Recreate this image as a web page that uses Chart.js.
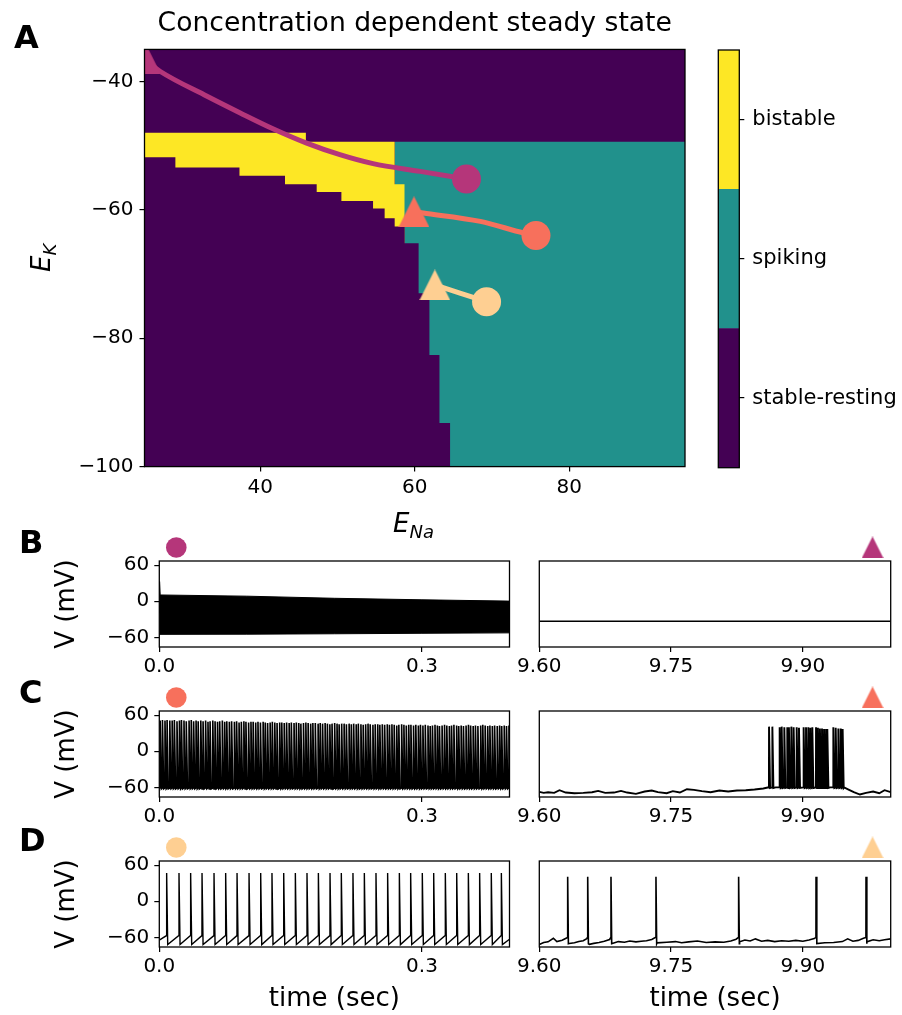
<!DOCTYPE html>
<html lang="en">
<head>
<meta charset="UTF-8">
<meta name="viewport" content="width=device-width, initial-scale=1.0">
<title>Concentration dependent steady state</title>
<script src="https://cdn.jsdelivr.net/npm/chart.js"></script>
<style>
  body { margin: 0; background: #fff; font-family: 'DejaVu Sans', sans-serif; }
  #fig { position: relative; width: 902px; height: 1015px; overflow: hidden; }
  #fig canvas { position: absolute; }
  .tag { position: absolute; font-weight: bold; font-size: 32px; line-height: 1; }
  .sym { position: absolute; font-style: italic; font-size: 26px; line-height: 1; white-space: nowrap; }
  .sym sub { font-size: 18px; vertical-align: -6px; }
</style>
</head>
<body>
<div id="fig">
  <canvas id="map" width="700" height="500" style="left:0;top:0"></canvas>
  <canvas id="bar" width="202" height="500" style="left:700px;top:0"></canvas>
  <canvas id="bL" width="520" height="163" style="left:0;top:516px"></canvas>
  <canvas id="bR" width="397" height="163" style="left:505px;top:516px"></canvas>
  <canvas id="cL" width="520" height="163" style="left:0;top:666px"></canvas>
  <canvas id="cR" width="397" height="163" style="left:505px;top:666px"></canvas>
  <canvas id="dL" width="520" height="199" style="left:0;top:816px"></canvas>
  <canvas id="dR" width="397" height="199" style="left:505px;top:816px"></canvas>

  <div class="tag" style="left:14px;top:21px">A</div>
  <div class="tag" style="left:19px;top:526px">B</div>
  <div class="tag" style="left:19px;top:676px">C</div>
  <div class="tag" style="left:19px;top:824px">D</div>
  <div class="sym" style="left:28px;top:272px;transform:rotate(-90deg);transform-origin:0 0"><i>E</i><sub>K</sub></div>
  <div class="sym" style="left:393px;top:510px"><i>E</i><sub>Na</sub></div>
</div>

<script>
// ---- phase diagram (mV) ----
const eNaRange = [25, 95];
const eKRange = [-100, -35];
const eNaTicks = [40, 60, 80];
const eKTicks = [-100, -80, -60, -40];

// state regions as steps: edges along E_Na, and the upper E_K level of each step
const spikingEdges = [57.4, 95];
const spikingTop = [-49.4];
const bistableEdges = [25, 45.9, 57.4, 58.7];
const bistableTop = [-48.0, -49.4, -56.0];
const restingEdges = [25, 29.0, 37.3, 43.2, 47.3, 50.5, 54.6, 56.1, 57.4, 58.7, 60.5, 61.9, 63.2, 64.6];
const restingTop = [-51.8, -53.4, -54.7, -56.0, -57.2, -58.6, -59.8, -61.3, -62.6, -65.2, -73.0, -82.6, -93.2];

const stateNames = ['stable-resting', 'spiking', 'bistable'];
const stateColors = ['#440154', '#21918c', '#fde725'];

// reversal potential trajectories [E_Na, E_K], from start (triangle) to end (circle)
const trajB = [[25.1, -36.4], [26.0, -37.5], [27.0, -38.4], [33.1, -42.3], [37.4, -44.9], [41.7, -47.4],
               [46.0, -49.6], [50.3, -51.4], [54.6, -52.8], [60.7, -54.0], [66.7, -55.2]];
const trajC = [[59.9, -60.3], [61.1, -60.5], [68.5, -61.8], [74.1, -63.6], [75.7, -64.0]];
const trajD = [[62.6, -71.7], [69.3, -74.3]];
const trajColors = ['#b5367a', '#f7705c', '#fecf92'];

// ---- voltage traces ----
const vRange = [-76, 67];
const vTicks = [-60, 0, 60];
const earlyWindow = [0, 0.4];
const lateWindow = [9.6, 10.0];
const earlyTicks = [0, 0.3];
const lateTicks = [9.6, 9.75, 9.9];

// B: fast oscillation, envelope of the trace
const bUpper = [[0, -20], [0.0003, 33], [0.001, 10.5], [0.1, 8.5], [0.2, 5.0], [0.3, 2.5], [0.4, 0.3]];
const bLower = [[0, -55], [0.1, -54.7], [0.2, -54.0], [0.3, -53.2], [0.4, -52.5]];
const bLate = [[9.6, -33], [10.0, -33]];

// C: spike times (ms) and peaks (mV)
const cEarlySpikes = [[1.0,51],[3.6,52],[6.5,51],[8.9,52],[12.0,51],[14.7,51],[17.2,52],[20.2,50],[23.0,51],
  [25.3,52],[28.2,51],[30.8,50],[34.0,51],[36.5,52],[39.2,50],[42.0,51],[44.4,50],[47.4,51],[50.0,50],[52.9,51],
  [55.6,49],[58.0,50],[61.1,51],[63.7,50],[66.5,49],[69.0,50],[72.0,51],[74.7,49],[77.1,50],[80.0,49],[82.6,50],
  [85.8,49],[88.3,50],[91.1,48],[93.7,49],[96.6,50],[99.0,49],[102.0,48],[104.7,49],[107.2,49],[110.1,48],
  [112.7,49],[115.5,48],[118.6,49],[121.0,48],[123.7,47],[126.6,48],[129.1,49],[131.9,48],[134.5,47],[137.5,48],
  [139.9,48],[142.7,47],[145.4,48],[148.3,47],[150.8,48],[153.9,47],[156.5,48],[159.3,47],[161.7,46],[164.7,47],
  [167.4,48],[170.0,47],[172.9,46],[175.4,47],[178.2,47],[181.4,46],[183.8,47],[186.5,46],[189.4,47],[192.0,46],
  [194.8,45],[197.3,46],[200.3,47],[203.0,46],[205.4,45],[208.3,46],[211.1,46],[213.7,45],[216.8,46],[219.3,45],
  [222.0,46],[224.9,45],[227.3,46],[230.3,45],[232.9,44],[235.7,45],[238.4,46],[240.9,45],[244.0,44],[246.6,45],
  [249.5,45],[251.9,44],[254.7,45],[257.4,44],[260.4,45],[262.9,44],[265.7,45],[268.3,44],[271.2,43],[273.6,44],
  [276.8,45],[279.4,44],[282.1,43],[284.9,44],[287.4,44],[290.4,43],[293.0,44],[295.9,43],[298.3,44],[301.1,43],
  [303.8,44],[306.9,43],[309.4,42],[312.0,43],[314.9,44],[317.6,43],[320.0,42],[323.0,43],[325.8,44],[328.4,43],
  [331.3,42],[333.8,43],[336.5,44],[339.6,43],[342.0,42],[344.8,43],[347.4,42],[350.4,43],[353.1,44],[355.6,43],
  [358.5,42],[361.1,43],[363.9,42],[367.1,43],[369.5,44],[372.2,43],[375.1,42],[377.6,43],[380.4,42],[383.0,43],
  [386.0,42],[388.7,43],[391.1,42],[394.0,43],[396.6,42],[399.4,43]];
const cEarlyBase = [[0, -61], [0.4, -61]];
const cLateSpikes = [[9.8615,41],[9.8653,41],[9.8736,40],[9.8759,41],[9.8789,40],[9.8823,40],[9.8842,40],
  [9.8869,41],[9.8895,40],[9.8930,40],[9.8956,39],[9.9009,40],[9.9036,40],[9.9062,40],[9.9085,39],[9.9108,40],
  [9.9150,40],[9.9172,39],[9.9195,38],[9.9218,38],[9.9241,37],[9.9264,37],[9.9279,37],[9.9347,40],[9.9374,39],
  [9.9404,38],[9.9431,38],[9.9453,37]];
const cLateBase = [[9.600,-67.4],[9.605,-69.1],[9.610,-68.0],[9.617,-69.1],[9.623,-64.7],[9.630,-68.6],[9.640,-69.7],
  [9.650,-69.1],[9.660,-68.0],[9.667,-65.8],[9.675,-69.1],[9.685,-68.6],[9.693,-65.8],[9.700,-68.6],[9.710,-70.8],
  [9.720,-66.9],[9.728,-65.2],[9.735,-68.0],[9.745,-69.7],[9.752,-66.3],[9.760,-68.6],[9.768,-63.0],[9.776,-64.1],
  [9.785,-66.3],[9.795,-68.0],[9.805,-65.2],[9.815,-66.9],[9.825,-65.2],[9.835,-64.7],[9.845,-63.6],[9.855,-61.9],
  [9.860,-60.2],[9.869,-60.0],[9.931,-60.0],[9.947,-60.2],[9.952,-63.6],[9.958,-68.0],[9.965,-71.9],[9.972,-69.1],
  [9.980,-66.9],[9.987,-69.7],[9.993,-64.7],[10.000,-68.0]];

// D: regular firing early, sparse firing late
const dEarlySpikes = [[0.0084,47],[0.0225,47],[0.0358,47],[0.0488,47],[0.0625,47],[0.0758,47],[0.0888,47],
  [0.1025,47],[0.1158,47],[0.1287,47],[0.1421,47],[0.1554,47],[0.1687,47],[0.1817,47],[0.1950,47],[0.2079,47],
  [0.2212,47],[0.2342,47],[0.2475,47],[0.2608,47],[0.2742,47],[0.2871,47],[0.3004,47],[0.3134,47],[0.3267,47],
  [0.3397,47],[0.3530,47],[0.3659,47],[0.3792,47],[0.3907,47]];
const dEarlyBase = [[0, -64.5], [0.4, -63]];
const dLateSpikes = [[9.6323,41],[9.6551,41],[9.6816,41],[9.7328,41],[9.8269,41],[9.9150,41],[9.9719,41]];
const dLateBase = [[9.600,-71.9],[9.605,-68.5],[9.610,-67.4],[9.616,-61.5],[9.620,-67.0],[9.626,-64.7],[9.631,-61.0],
  [9.634,-70.2],[9.640,-69.0],[9.645,-67.0],[9.650,-65.5],[9.654,-62.0],
  [9.657,-71.5],[9.662,-70.0],[9.668,-68.5],[9.674,-66.5],[9.680,-63.5],
  [9.683,-70.2],[9.690,-67.0],[9.697,-68.0],[9.703,-66.0],[9.710,-67.5],[9.716,-66.5],[9.722,-65.5],[9.728,-63.5],[9.731,-61.0],
  [9.734,-69.1],[9.745,-68.0],[9.755,-67.0],[9.762,-69.0],[9.770,-67.5],[9.780,-66.0],[9.790,-68.5],[9.800,-67.5],
  [9.810,-68.0],[9.818,-66.0],[9.824,-63.0],
  [9.828,-67.4],[9.834,-64.5],[9.840,-66.0],[9.846,-62.5],[9.853,-66.5],[9.860,-65.0],[9.868,-67.0],[9.876,-65.5],
  [9.884,-66.5],[9.892,-65.0],[9.900,-66.5],[9.907,-64.5],[9.913,-62.0],
  [9.916,-70.2],[9.925,-69.0],[9.935,-68.5],[9.945,-67.0],[9.951,-62.5],[9.957,-66.5],[9.963,-65.0],[9.969,-61.5],
  [9.973,-67.4],[9.980,-64.0],[9.987,-65.5],[9.993,-64.0],[10.0,-62.5]];

// marker positions above each trace panel
const markEarly = 0.0194, markLate = 9.9793, markV = 89.5;

// ---------------------------------------------------------------
Chart.defaults.font.family = "'DejaVu Sans', sans-serif";
Chart.defaults.color = '#000';

const minus = v => String(v).replace('-', '\u2212');
const toXY = pairs => pairs.map(([x, y]) => ({x, y}));

// corners of a staircase outline
function steps(edges, levels) {
  const pts = [];
  levels.forEach((y, i) => pts.push({x: edges[i], y}, {x: edges[i + 1], y}));
  return pts;
}

// merge a baseline with spikes; pre/post give the level just before and after each spike
function spikeTrace(spikes, base, pre, post, postDelay) {
  const pts = toXY(base);
  spikes.forEach(([t, peak]) => {
    if (pre !== null) pts.push({x: t - 0.0001, y: pre});
    pts.push({x: t, y: peak});
    if (post !== null) pts.push({x: t + postDelay, y: post});
  });
  return pts.sort((a, b) => a.x - b.x);
}

// matplotlib-like triangle marker
function triangle(color, size) {
  const c = document.createElement('canvas');
  c.width = size; c.height = size;
  const g = c.getContext('2d');
  g.fillStyle = color;
  g.beginPath();
  g.moveTo(size / 2, 0); g.lineTo(size, size); g.lineTo(0, size);
  g.closePath(); g.fill();
  return c;
}

// axes box on all four sides
const frame = {
  id: 'frame',
  afterDatasetsDraw(chart) {
    const {ctx, chartArea: a} = chart;
    ctx.save();
    ctx.strokeStyle = '#000';
    ctx.lineWidth = 1.3;
    ctx.strokeRect(a.left, a.top, a.right - a.left, a.bottom - a.top);
    ctx.restore();
  }
};

// point markers that sit above the axes box (the regular pass skips points outside the area)
const outsideMarks = {
  id: 'outsideMarks',
  afterDraw(chart) {
    chart.data.datasets.forEach((ds, i) => {
      if (!ds.outside) return;
      chart.getDatasetMeta(i).data.forEach(pt => pt.draw(chart.ctx));
    });
  }
};

const tickGrid = {display: true, drawOnChartArea: false, tickLength: 5, color: '#000', lineWidth: 1.2};
const setTicks = values => ax => { ax.ticks = values.map(value => ({value})); };

// ---- A: phase diagram ----
const region = (pts, color) => ({
  data: pts, fill: 'start', backgroundColor: color, borderColor: color,
  borderWidth: 0, pointRadius: 0
});
const path = (pts, color) => ({
  data: toXY(pts), borderColor: color, borderWidth: 5, pointRadius: 0,
  fill: false, cubicInterpolationMode: 'monotone', borderCapStyle: 'round'
});
const dot = (p, style, radius, color) => ({
  data: [{x: p[0], y: p[1]}], showLine: false, pointStyle: style, pointRadius: radius,
  pointBackgroundColor: color, pointBorderWidth: 0
});

const trajs = [trajB, trajC, trajD];
const mapSets = [];
trajs.forEach((t, i) => {
  mapSets.push(dot(t[t.length - 1], 'circle', 14.5, trajColors[i]));
  mapSets.push(dot(t[0], triangle(trajColors[i], 31), 15, trajColors[i]));
});
trajs.forEach((t, i) => mapSets.push(path(t, trajColors[i])));
mapSets.push(
  region(steps(restingEdges, restingTop), stateColors[0]),
  region(steps(bistableEdges, bistableTop), stateColors[2]),
  region(steps(spikingEdges, spikingTop), stateColors[1]),
  region(steps(eNaRange, [eKRange[1]]), stateColors[0])
);

new Chart(document.getElementById('map'), {
  type: 'line',
  data: {datasets: mapSets},
  options: {
    responsive: false, animation: false, events: [],
    layout: {padding: {left: 0, right: 15, top: 0, bottom: 0}},
    plugins: {
      legend: {display: false}, tooltip: {enabled: false},
      title: {
        display: true, text: 'Concentration dependent steady state', fullSize: false,
        font: {size: 26.6, weight: 'normal'}, padding: {top: 8, bottom: 9.5}
      }
    },
    scales: {
      x: {
        type: 'linear', min: eNaRange[0], max: eNaRange[1],
        afterBuildTicks: setTicks(eNaTicks),
        afterFit: ax => { ax.height = 33.4; },
        ticks: {font: {size: 20}, padding: 4, maxRotation: 0},
        grid: tickGrid, border: {display: false}
      },
      y: {
        min: eKRange[0], max: eKRange[1],
        afterBuildTicks: setTicks(eKTicks),
        afterFit: ax => { ax.width = 144.5; },
        ticks: {font: {size: 20}, padding: 6, callback: minus},
        grid: tickGrid, border: {display: false}
      }
    }
  },
  plugins: [frame]
});

// ---- colour bar ----
new Chart(document.getElementById('bar'), {
  type: 'bar',
  data: {
    labels: [''],
    datasets: stateNames.map((name, i) => ({
      label: name, data: [1], backgroundColor: stateColors[i],
      barPercentage: 1, categoryPercentage: 1, borderWidth: 0
    }))
  },
  options: {
    responsive: false, animation: false, events: [],
    layout: {padding: {left: 18.3, top: 50, right: 0, bottom: 32.3}},
    plugins: {legend: {display: false}, tooltip: {enabled: false}},
    scales: {
      x: {display: false, stacked: true},
      y: {
        position: 'right', stacked: true, min: 0, max: 3,
        afterBuildTicks: setTicks([0.5, 1.5, 2.5]),
        afterFit: ax => { ax.width = 162.7; },
        ticks: {font: {size: 21}, padding: 8, callback: v => stateNames[Math.floor(v)]},
        grid: tickGrid, border: {display: false}
      }
    }
  },
  plugins: [frame]
});

// ---- B, C, D: voltage traces ----
const AREA_H = 86;
function tracePanel(id, early, withTitle, datasets) {
  const canvas = document.getElementById(id);
  const xAxisH = canvas.height - 45 - AREA_H;
  return new Chart(canvas, {
    type: 'line',
    data: {datasets},
    options: {
      responsive: false, animation: false, events: [],
      layout: {padding: early ? {left: 0, right: 10.5, top: 45, bottom: 0}
                              : {left: 34.3, right: 11.3, top: 45, bottom: 0}},
      elements: {point: {radius: 0}, line: {borderWidth: 1.4, borderColor: '#000', tension: 0}},
      plugins: {legend: {display: false}, tooltip: {enabled: false}},
      scales: {
        x: {
          type: 'linear',
          min: (early ? earlyWindow : lateWindow)[0], max: (early ? earlyWindow : lateWindow)[1],
          afterBuildTicks: setTicks(early ? earlyTicks : lateTicks),
          afterFit: ax => { ax.height = xAxisH; },
          ticks: {font: {size: 20}, padding: 3, maxRotation: 0, callback: v => v.toFixed(early ? 1 : 2)},
          grid: tickGrid, border: {display: false},
          title: {display: withTitle, text: 'time (sec)', font: {size: 26}, padding: {top: 0, bottom: 0}}
        },
        y: {
          display: early,
          min: vRange[0], max: vRange[1],
          afterBuildTicks: setTicks(vTicks),
          afterFit: ax => { ax.width = early ? 159.3 : 0; },
          ticks: {font: {size: 20}, padding: 5, callback: minus},
          grid: tickGrid, border: {display: false},
          title: {display: true, text: 'V (mV)', font: {size: 26}, padding: {top: 52, bottom: 0}}
        }
      }
    },
    plugins: [frame, outsideMarks]
  });
}

const trace = (pts, width) => ({data: pts, borderColor: '#000', borderWidth: width, pointRadius: 0, fill: false});
const mark = (t, style, radius, color) => ({
  data: [{x: t, y: markV}], showLine: false, clip: false, outside: true, pointStyle: style,
  pointRadius: radius, pointBackgroundColor: color, pointBorderWidth: 0
});
const msToSec = spikes => spikes.map(([t, v]) => [t / 1000, v]);

tracePanel('bL', true, false, [
  mark(markEarly, 'circle', 10.3, trajColors[0]),
  {data: toXY(bUpper), borderColor: '#000', borderWidth: 1, pointRadius: 0, fill: '+1', backgroundColor: '#000'},
  {data: toXY(bLower), borderColor: '#000', borderWidth: 1, pointRadius: 0, fill: false}
]);
tracePanel('bR', false, false, [
  mark(markLate, triangle(trajColors[0], 22), 11, trajColors[0]),
  trace(toXY(bLate), 1.5)
]);
tracePanel('cL', true, false, [
  mark(markEarly, 'circle', 10.3, trajColors[1]),
  trace(spikeTrace(msToSec(cEarlySpikes), cEarlyBase, -61, -62.5, 0.0014), 1.6)
]);
tracePanel('cR', false, false, [
  mark(markLate, triangle(trajColors[1], 22), 11, trajColors[1]),
  trace(spikeTrace(cLateSpikes, cLateBase, -60, -61, 0.0012), 1.9)
]);
tracePanel('dL', true, true, [
  mark(markEarly, 'circle', 10.3, trajColors[2]),
  trace(spikeTrace(dEarlySpikes, dEarlyBase, -57, -72, 0.0012), 1.4)
]);
tracePanel('dR', false, true, [
  mark(markLate, triangle(trajColors[2], 22), 11, trajColors[2]),
  trace(spikeTrace(dLateSpikes, dLateBase, -60, -70.5, 0.0008), 1.6)
]);
</script>
</body>
</html>
